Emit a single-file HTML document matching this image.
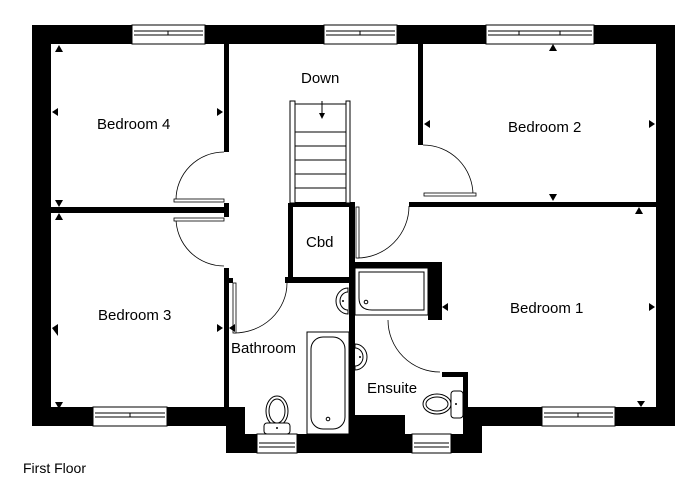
<!DOCTYPE html>
<html><head><meta charset="utf-8"><style>
html,body{margin:0;padding:0;background:#fff;}
svg{display:block;}
text{font-family:"Liberation Sans",Arial,sans-serif;font-size:15px;fill:#000;}
</style></head><body>
<svg width="696" height="500" viewBox="0 0 696 500" xmlns="http://www.w3.org/2000/svg">
<!-- outer walls -->
<g fill="#000">
<rect x="32" y="25" width="643" height="19"/>
<rect x="32" y="25" width="19" height="401"/>
<rect x="656" y="25" width="19" height="401"/>
<rect x="32" y="407" width="213" height="19"/>
<rect x="468" y="407" width="207" height="19"/>
<rect x="226" y="407" width="19" height="46"/>
<rect x="463" y="407" width="19" height="46"/>
<rect x="226" y="434" width="256" height="19"/>
<rect x="354" y="415" width="51" height="20"/>
<!-- interior walls -->
<rect x="224" y="44" width="5" height="108"/>
<rect x="51" y="207" width="178" height="6"/>
<rect x="224" y="203" width="5" height="14"/>
<rect x="418" y="44" width="5" height="101"/>
<rect x="409" y="202" width="247" height="5"/>
<rect x="290" y="202" width="65" height="5"/>
<rect x="288" y="203" width="5" height="77"/>
<rect x="285" y="277" width="70" height="6"/>
<rect x="349" y="203" width="6" height="232"/>
<rect x="224" y="268" width="5" height="140"/>
<rect x="229" y="278" width="4" height="5"/>
<rect x="354" y="262" width="86" height="6"/>
<rect x="428" y="262" width="14" height="58"/>
<rect x="442" y="372" width="26" height="5"/>
<rect x="463" y="372" width="5" height="36"/>
</g>
<!-- windows -->
<g fill="#fff" stroke="#000" stroke-width="1">
<rect x="132" y="25" width="73" height="19"/>
<rect x="324" y="25" width="73" height="19"/>
<rect x="486" y="25" width="108" height="19"/>
<rect x="93" y="407" width="74" height="19"/>
<rect x="542" y="407" width="73" height="19"/>
<rect x="257" y="434" width="40" height="19"/>
<rect x="412" y="434" width="39" height="19"/>
</g>
<g stroke="#000" stroke-width="1" fill="none">
<path d="M134 31H203M134 35H203M326 31H395M326 35H395M488 31H592M488 35H592"/>
<path d="M95 413H165M95 417H165M544 413H613M544 417H613M259 443H295M259 447H295M414 443H449M414 447H449"/>
<path d="M168 31V35M360 31V35M519 31V35M560 31V35M130 413V417M578 413V417"/>
</g>
<!-- stairs -->
<g stroke="#000" stroke-width="1" fill="none">
<rect x="290" y="101" width="5" height="102" fill="#fff"/>
<rect x="346" y="101" width="4" height="102" fill="#fff"/>
<path d="M295 104H346M295 132H346M295 146H346M295 160H346M295 174H346M295 188H346"/>
<path d="M322 101V117"/>
</g>
<path d="M319 113L322 119L325 113Z" fill="#000"/>
<!-- doors -->
<g stroke="#000" stroke-width="0.8" fill="none">
<path d="M224 152A48 48 0 0 0 176 200"/>
<rect x="174" y="199" width="50" height="3" fill="#fff"/>
<path d="M176 218A48 48 0 0 0 224 266"/>
<rect x="174" y="218" width="50" height="3" fill="#fff"/>
<path d="M423 145A50 50 0 0 1 473 195"/>
<rect x="424" y="193" width="52" height="3" fill="#fff"/>
<path d="M409 206A52 52 0 0 1 357 258"/>
<rect x="356" y="207" width="3" height="51" fill="#fff"/>
<path d="M287 283A53 50 0 0 1 234 333"/>
<rect x="233" y="283" width="3" height="50" fill="#fff"/>
<path d="M388 320A52 52 0 0 0 440 372"/>
</g>
<!-- fixtures -->
<g stroke="#000" stroke-width="1" fill="#fff">
<rect x="307" y="332" width="42" height="102"/>
<rect x="311" y="337" width="34" height="92" rx="12"/>
<rect x="355" y="268" width="73" height="47"/>
<path d="M359 272H424V310H372Q359 310 359 298Z"/>
<path d="M348 288A12 13 0 0 0 348 314Z"/>
<path d="M348 292A8 9 0 0 0 348 310"/>
<path d="M355 344A12 13 0 0 1 355 370Z"/>
<path d="M355 348A8 9 0 0 1 355 366"/>
<ellipse cx="277" cy="411" rx="11" ry="15"/>
<ellipse cx="277" cy="411" rx="8" ry="12"/>
<rect x="264" y="423" width="26" height="11" rx="3"/>
<ellipse cx="437" cy="404" rx="14" ry="10"/>
<ellipse cx="437" cy="404" rx="11" ry="7"/>
<rect x="451" y="391" width="12" height="27" rx="3"/>
</g>
<g fill="#000">
<circle cx="328" cy="419" r="1.8" fill="none" stroke="#000"/>
<circle cx="366" cy="302" r="1.8" fill="none" stroke="#000"/>
<circle cx="343" cy="301" r="1"/><circle cx="360" cy="357" r="1"/>
<circle cx="277" cy="428" r="1"/><circle cx="456" cy="404" r="1"/>
</g>
<!-- markers -->
<g fill="#000">
<path d="M55 52L59 45L63 52Z"/>
<path d="M52 112L58 108L58 116Z"/>
<path d="M223 112L217 108L217 116Z"/>
<path d="M55 200L59 207L63 200Z"/>
<path d="M55 220L59 213L63 220Z"/>
<path d="M52 328L58 324L58 336Z"/>
<path d="M223 328L217 324L217 332Z"/>
<path d="M55 402L59 409L63 402Z"/>
<path d="M549 51L553 44L557 51Z"/>
<path d="M424 124L430 120L430 128Z"/>
<path d="M655 124L649 120L649 128Z"/>
<path d="M549 194L553 201L557 194Z"/>
<path d="M635 214L639 207L643 214Z"/>
<path d="M442 307L448 303L448 311Z"/>
<path d="M655 307L649 303L649 311Z"/>
<path d="M637 401L641 407L645 401Z"/>
<path d="M229 328L235 324L235 332Z"/>
</g>
<!-- labels -->
<text x="97" y="129">Bedroom 4</text>
<text x="508" y="132">Bedroom 2</text>
<text x="98" y="320">Bedroom 3</text>
<text x="510" y="313">Bedroom 1</text>
<text x="301" y="83">Down</text>
<text x="306" y="247">Cbd</text>
<text x="231" y="353">Bathroom</text>
<text x="367" y="393">Ensuite</text>
<text x="23" y="473" style="font-size:14px">First Floor</text>
</svg>
</body></html>
